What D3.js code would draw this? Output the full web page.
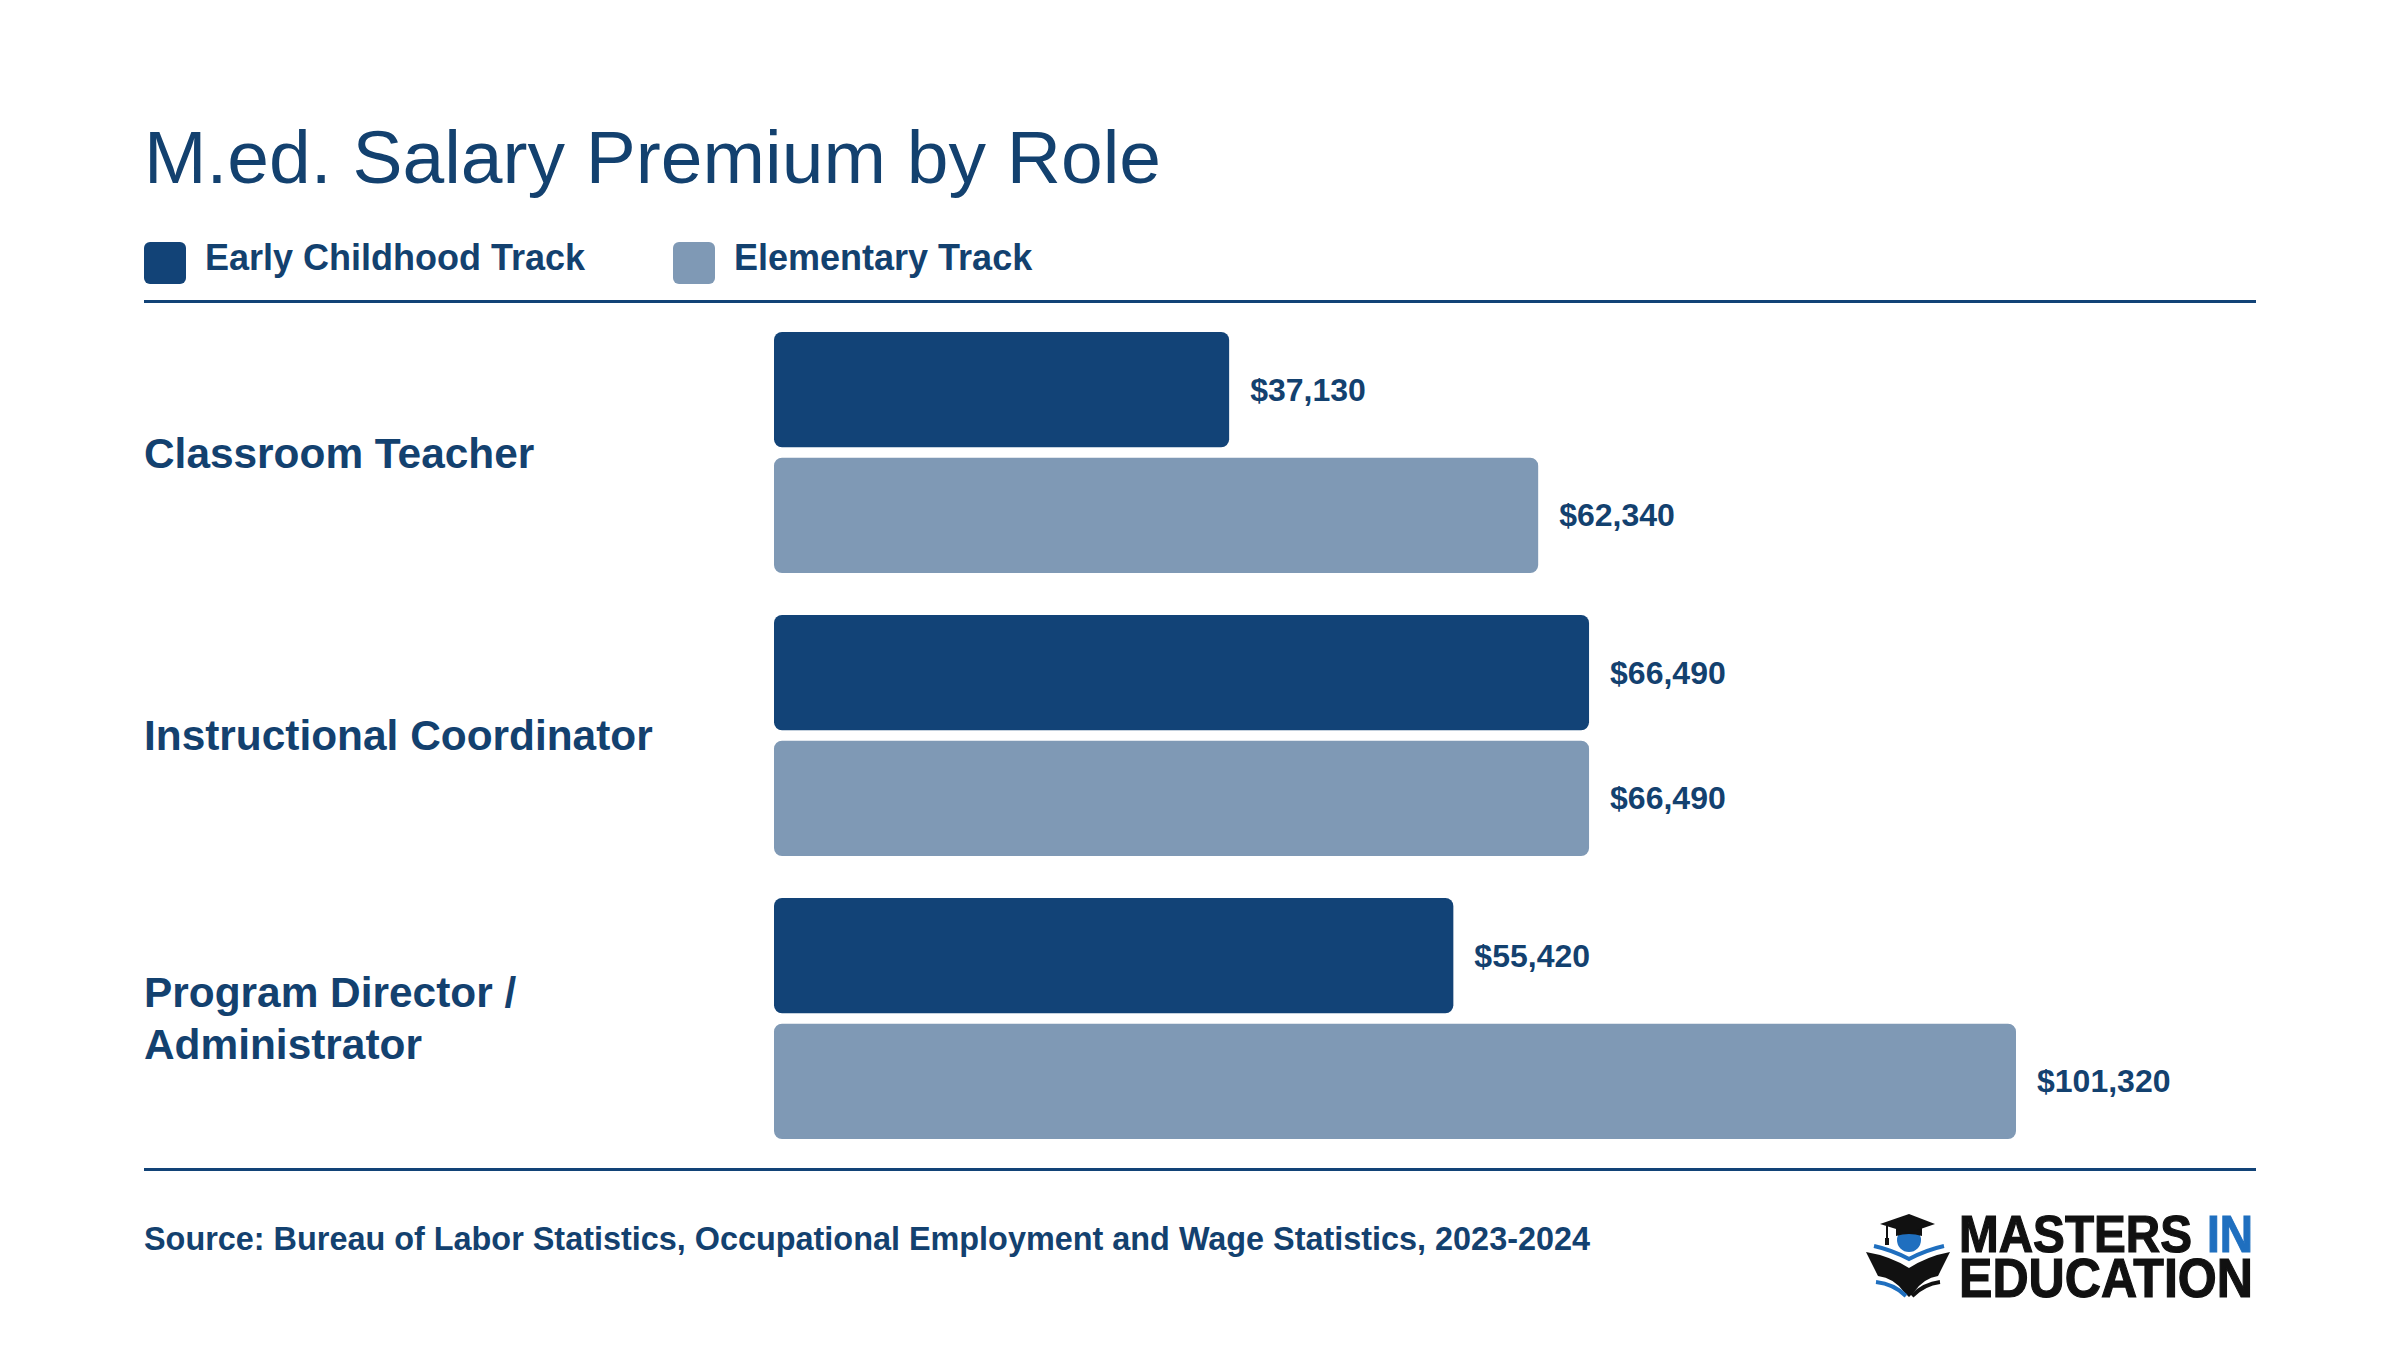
<!DOCTYPE html>
<html>
<head>
<meta charset="utf-8">
<script src="https://cdn.jsdelivr.net/npm/d3@7"></script>
<style>
  html, body { margin: 0; padding: 0; background: #fff; }
  svg { display: block; }
  text { font-family: "Liberation Sans", Arial, Helvetica, sans-serif; }
</style>
</head>
<body>
<div id="chart"></div>
<script>
const roles = ["Classroom Teacher", "Instructional Coordinator", "Program Director / Administrator"];
const roleLines = [["Classroom Teacher"], ["Instructional Coordinator"], ["Program Director /", "Administrator"]];
const seriesNames = ["Early Childhood Track", "Elementary Track"];
const earlyChildhood = [37130, 66490, 55420];
const elementary = [62340, 66490, 101320];

const W = 2400, H = 1350;
const navy = "#124377";
const lightBlue = "#7f99b5";
const textNavy = "#13416f";
const left = 144, right = 2256;

const svg = d3.select("#chart").append("svg")
  .attr("width", W).attr("height", H)
  .attr("viewBox", `0 0 ${W} ${H}`);

svg.append("rect").attr("width", W).attr("height", H).attr("fill", "#fff");

// title
svg.append("text")
  .attr("x", left).attr("y", 183)
  .attr("font-size", 75)
  .attr("fill", textNavy)
  .text("M.ed. Salary Premium by Role");

// legend
const legendX = [144, 673];
const colors = [navy, lightBlue];
const legend = svg.append("g");
seriesNames.forEach((name, i) => {
  legend.append("rect")
    .attr("x", legendX[i]).attr("y", 242)
    .attr("width", 42).attr("height", 42)
    .attr("rx", 6)
    .attr("fill", colors[i]);
  legend.append("text")
    .attr("x", legendX[i] + 61).attr("y", 270)
    .attr("font-size", 36).attr("font-weight", 700)
    .attr("fill", textNavy)
    .text(name);
});

// rules
svg.append("line").attr("x1", left).attr("x2", right).attr("y1", 301.5).attr("y2", 301.5)
  .attr("stroke", navy).attr("stroke-width", 3);
svg.append("line").attr("x1", left).attr("x2", right).attr("y1", 1169.5).attr("y2", 1169.5)
  .attr("stroke", navy).attr("stroke-width", 3);

// scales
const x = d3.scaleLinear()
  .domain([0, d3.max(elementary.concat(earlyChildhood))])
  .range([774, 2016]);

const y = d3.scaleBand().domain(roles).range([332, 1139]).paddingInner(0.148).paddingOuter(0);
const yInner = d3.scaleBand().domain(seriesNames).range([0, y.bandwidth()]).paddingInner(0.083);

const rows = roles.map((r, i) => ({
  role: r,
  lines: roleLines[i],
  values: [
    { series: seriesNames[0], value: earlyChildhood[i] },
    { series: seriesNames[1], value: elementary[i] }
  ]
}));

const fmt = d3.format("$,");

const groups = svg.append("g").selectAll("g")
  .data(rows)
  .join("g")
  .attr("transform", d => `translate(0,${y(d.role)})`);

groups.selectAll("rect")
  .data(d => d.values)
  .join("rect")
  .attr("x", x(0))
  .attr("y", d => yInner(d.series))
  .attr("width", d => x(d.value) - x(0))
  .attr("height", yInner.bandwidth())
  .attr("rx", 8)
  .attr("fill", (d, i) => colors[i]);

groups.selectAll("text.value")
  .data(d => d.values)
  .join("text")
  .attr("class", "value")
  .attr("x", d => x(d.value) + 21)
  .attr("y", d => yInner(d.series) + yInner.bandwidth() / 2 + 11)
  .attr("font-size", 32).attr("font-weight", 700)
  .attr("fill", textNavy)
  .text(d => fmt(d.value));

// role labels
groups.each(function(d) {
  const g = d3.select(this);
  const lh = 52;
  const mid = y.bandwidth() / 2;
  const first = mid - (d.lines.length - 1) * lh / 2 + 15;
  d.lines.forEach((line, j) => {
    g.append("text")
      .attr("x", left).attr("y", first + j * lh)
      .attr("font-size", 42.4).attr("font-weight", 700)
      .attr("fill", textNavy)
      .text(line);
  });
});

// source
svg.append("text")
  .attr("x", left).attr("y", 1250)
  .attr("font-size", 32.4).attr("font-weight", 700)
  .attr("fill", textNavy)
  .text("Source: Bureau of Labor Statistics, Occupational Employment and Wage Statistics, 2023-2024");

// logo (one text block so the two lines stay together)
const logo = svg.append("g");
const blue = "#1f6fbf";
const logoText = logo.append("text")
  .attr("font-family", "Roboto, 'Liberation Sans', sans-serif")
  .attr("font-weight", 900)
  .attr("stroke-width", 1.2);
logoText.append("tspan")
  .attr("x", 1959).attr("y", 1252)
  .attr("font-size", 52)
  .attr("textLength", 233).attr("lengthAdjust", "spacingAndGlyphs")
  .attr("fill", "#111").attr("stroke", "#111")
  .text("MASTERS");
logoText.append("tspan")
  .attr("x", 2207).attr("y", 1252)
  .attr("font-size", 52)
  .attr("textLength", 46).attr("lengthAdjust", "spacingAndGlyphs")
  .attr("fill", blue).attr("stroke", blue)
  .text("IN");
logoText.append("tspan")
  .attr("x", 1959).attr("y", 1297)
  .attr("font-size", 56)
  .attr("textLength", 294).attr("lengthAdjust", "spacingAndGlyphs")
  .attr("fill", "#111").attr("stroke", "#111")
  .text("EDUCATION");

// icon: head, cap, book
logo.append("circle").attr("cx", 1909).attr("cy", 1240).attr("r", 12).attr("fill", blue);
logo.append("path")
  .attr("d", "M1896,1228 L1922,1228 L1922,1236 Q1909,1232 1896,1236 Z")
  .attr("fill", "#111");
logo.append("path")
  .attr("d", "M1880,1224 L1909,1214 L1935,1224 L1909,1233 Z")
  .attr("fill", "#111");
logo.append("line").attr("x1", 1887).attr("y1", 1226).attr("x2", 1887).attr("y2", 1243)
  .attr("stroke", "#111").attr("stroke-width", 2);
logo.append("rect").attr("x", 1885).attr("y", 1238).attr("width", 4).attr("height", 7).attr("fill", "#111");
logo.append("path")
  .attr("d", "M1874,1246 Q1892,1250 1909,1259 Q1926,1250 1944,1246")
  .attr("fill", "none").attr("stroke", blue).attr("stroke-width", 4);
logo.append("path")
  .attr("d", "M1866,1252 Q1890,1256 1909,1268 Q1928,1256 1950,1252 L1938,1276 Q1924,1278 1914,1292 L1909,1297 L1904,1292 Q1894,1278 1878,1276 Z")
  .attr("fill", "#111");
logo.append("path")
  .attr("d", "M1876,1282 Q1894,1284 1906,1296")
  .attr("fill", "none").attr("stroke", blue).attr("stroke-width", 4);
logo.append("path")
  .attr("d", "M1912,1296 Q1924,1284 1940,1282")
  .attr("fill", "none").attr("stroke", "#111").attr("stroke-width", 4);
</script>
</body>
</html>
